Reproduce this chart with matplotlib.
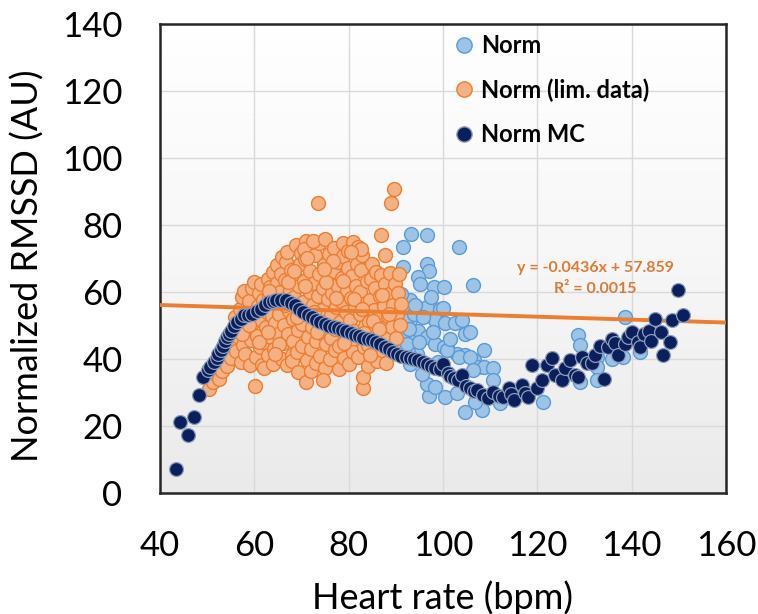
import numpy as np
import matplotlib
matplotlib.use("Agg")
import matplotlib.pyplot as plt
from matplotlib.colors import LinearSegmentedColormap
from matplotlib.lines import Line2D

plt.rcParams['font.family'] = ['Lato', 'DejaVu Sans']

# ---------------- data ----------------
x_ticks = [40, 60, 80, 100, 120, 140, 160]
y_ticks = [0, 20, 40, 60, 80, 100, 120, 140]

# Norm (visible points)
norm_hr = [91.6, 93.2, 96.6, 103.4, 91.6, 96.6, 97.1, 94.8, 98.0, 100.3,
           106.4, 95.2, 93.0, 96.6, 99.3, 100.1, 103.8, 104.7, 105.7, 93.0,
           94.8, 96.6, 98.4, 100.2, 101.1, 102.9, 104.7, 106.5, 108.6, 107.4,
           108.6, 110.7, 110.7, 104.7, 108.2, 106.8, 100.4, 97.1, 96.6, 98.4,
           102.9, 93.0, 94.4, 93.0, 91.6, 92.1, 91.6, 91.1, 93.9, 98.4,
           100.4, 102.6, 104.0, 100.8, 103.3, 105.7, 106.4, 112.1, 121.3, 128.7,
           129.1, 129.1, 132.7, 132.7, 132.7, 135.9, 138.6, 138.1, 141.8, 97.5,
           95.5, 99.0, 101.5, 89.5, 90.0, 90.5, 92.5, 92.8, 94.0, 95.8,
           97.8, 92.3, 95.0]
norm_rmssd = [73.4, 77.4, 76.9, 73.4, 67.4, 68.4, 66.4, 64.4, 61.4, 61.4,
              62.1, 62.4, 57.5, 55.5, 55.0, 55.1, 51.5, 47.5, 48.2, 51.5,
              48.5, 46.5, 44.5, 43.6, 42.6, 41.6, 41.1, 39.6, 42.7, 37.6,
              37.7, 37.2, 33.7, 24.3, 24.8, 27.3, 28.7, 29.1, 32.6, 31.6,
              29.8, 38.6, 41.6, 45.5, 47.5, 51.5, 55.5, 59.5, 53.5, 51.5,
              50.7, 50.7, 51.6, 42.7, 40.7, 40.7, 36.7, 26.8, 27.3, 47.2,
              44.2, 33.2, 40.6, 37.6, 33.6, 40.1, 52.5, 40.6, 42.0, 58.5,
              35.5, 39.0, 46.0, 62.0, 52.0, 45.0, 42.0, 49.0, 56.0, 52.5,
              48.0, 44.5, 45.0]

# Norm (lim. data)
lim_hr = [
    50.4, 51.3, 51.9, 52.6, 53.2, 53.5,
    54.1, 54.4, 54.8, 55.0, 55.3, 55.6, 55.9,
    56.2, 56.4, 56.6, 56.9, 57.1, 57.3, 57.6, 57.8,
    58.1, 58.3, 58.5, 58.8, 59.0, 59.2, 59.5, 59.7, 59.9,
    60.2, 60.3, 60.5, 60.7, 60.9, 61.1, 61.3, 61.5, 61.7, 61.9,
    62.0, 62.2, 62.4, 62.6, 62.8, 63.0, 63.2, 63.4, 63.6, 63.8, 63.9,
    64.0, 64.2, 64.3, 64.5, 64.7, 64.9, 65.0, 65.2, 65.4, 65.6, 65.8, 65.9,
    66.0, 66.2, 66.3, 66.5, 66.7, 66.9, 67.0, 67.2, 67.4, 67.6, 67.8, 67.9,
    68.0, 68.1, 68.3, 68.5, 68.7, 68.8, 69.0, 69.2, 69.4, 69.5, 69.7, 69.9, 69.3,
    70.0, 70.2, 70.3, 70.5, 70.7, 70.9, 71.0, 71.2, 71.3, 71.5, 71.7, 71.9, 70.6,
    72.0, 72.1, 72.3, 72.5, 72.6, 72.8, 73.0, 73.1, 73.3, 73.5, 73.7, 73.8, 73.4, 72.4,
    74.0, 74.2, 74.3, 74.5, 74.7, 74.9, 75.0, 75.2, 75.4, 75.6, 75.8, 75.9, 74.6,
    76.0, 76.2, 76.3, 76.5, 76.7, 76.9, 77.0, 77.2, 77.4, 77.6, 77.8, 77.9,
    78.0, 78.2, 78.3, 78.5, 78.7, 78.9, 79.0, 79.2, 79.4, 79.6, 79.8, 79.9,
    80.0, 80.2, 80.3, 80.5, 80.7, 80.9, 81.0, 81.2, 81.4, 81.6, 81.8, 81.9,
    82.0, 82.2, 82.3, 82.5, 82.7, 82.9, 83.0, 83.1, 83.3, 83.5, 83.7, 83.9, 82.6,
    84.0, 84.2, 84.4, 84.5, 84.7, 84.9, 85.0, 85.2, 85.4, 85.6, 85.8,
    86.0, 86.2, 86.4, 86.6, 86.8, 87.0, 87.2, 87.4, 87.6, 87.8, 86.9,
    88.0, 88.2, 88.4, 88.6, 88.8, 89.0, 89.2, 89.4, 88.9, 89.6,
    89.8, 90.0, 90.2, 90.4, 90.6, 90.8, 91.0,
    57.4, 58.9, 61.0, 63.1, 65.3, 67.1, 69.1, 71.1, 73.2, 75.1,
    77.3, 79.1, 81.1, 83.2, 85.1, 87.1, 64.4, 68.4, 72.7, 76.6,
    80.6, 84.6, 88.5, 62.9, 66.6, 70.8, 74.8, 78.8, 82.8, 86.5,
]
lim_rmssd = [
    31.0, 33.2, 35.5, 34.1, 36.4, 40.0,
    38.0, 42.3, 45.1, 40.2, 44.0, 48.5, 52.6,
    42.5, 46.8, 50.3, 55.0, 39.1, 58.4, 44.2, 60.3,
    41.4, 49.2, 53.6, 57.2, 38.3, 45.6, 61.2, 51.0, 63.0,
    32.0, 40.6, 47.0, 55.8, 59.6, 43.5, 51.9, 62.4, 38.1, 57.5,
    37.4, 44.8, 49.6, 54.1, 64.0, 41.2, 58.9, 61.6, 46.7, 52.8, 66.1,
    38.6, 43.1, 50.7, 56.3, 62.8, 68.2, 47.4, 53.5, 59.9, 65.4, 40.1, 70.3,
    44.9, 50.2, 57.8, 63.6, 69.1, 38.2, 72.0, 47.6, 54.4, 60.5, 66.7, 41.3,
    39.3, 45.5, 51.8, 58.6, 64.9, 74.0, 42.2, 48.7, 55.3, 61.9, 68.5, 71.6, 36.0,
    43.8, 50.4, 57.1, 63.3, 69.8, 75.2, 33.0, 39.7, 46.6, 53.2, 60.0, 66.4, 72.8,
    36.4, 42.9, 49.5, 56.0, 62.7, 70.9, 38.8, 45.3, 52.1, 58.8, 65.5, 74.5, 86.6, 75.3,
    41.0, 47.8, 54.7, 61.3, 68.1, 75.8, 37.2, 44.5, 51.2, 57.9, 64.6, 71.4, 33.6,
    39.9, 46.3, 53.0, 59.8, 66.2, 73.1, 42.7, 49.1, 55.6, 62.2, 68.9, 37.0,
    44.0, 50.9, 57.4, 64.1, 70.7, 74.6, 40.3, 47.2, 53.9, 60.6, 67.3, 72.2,
    38.4, 45.0, 51.6, 58.3, 64.8, 74.9, 42.1, 48.4, 55.1, 61.7, 68.3, 73.5,
    40.5, 46.9, 53.4, 60.1, 66.6, 71.0, 31.2, 34.7, 43.6, 50.0, 56.7, 63.3, 72.8,
    37.8, 44.3, 51.0, 57.5, 63.8, 68.4, 41.6, 48.2, 54.6, 61.1, 66.0,
    39.4, 45.8, 52.4, 58.9, 65.0, 42.8, 49.3, 55.8, 62.3, 70.9, 76.9,
    38.9, 46.1, 52.9, 59.4, 65.7, 43.0, 49.7, 56.2, 86.5, 90.8,
    62.5, 46.4, 53.3, 59.7, 65.3, 50.2, 56.4,
    47.5, 50.1, 45.2, 60.2, 44.6, 63.0, 52.6, 70.1, 48.0, 62.9,
    58.3, 44.7, 57.9, 47.7, 51.4, 59.2, 41.5, 66.2, 54.0, 69.4,
    72.0, 41.1, 53.4, 48.2, 56.2, 61.8, 66.9, 63.4, 55.0, 48.9,
]

# Norm MC
mc_hr = [43.3, 44.2, 45.9, 47.2, 48.3, 49.2, 50.1, 50.7, 51.5, 52.0,
         52.4, 52.9, 53.3, 53.8, 54.2, 54.7, 55.1, 55.7, 56.4, 57.1,
         57.8, 58.6, 59.6, 60.5, 61.4, 62.3, 63.2, 63.9, 64.6, 65.7,
         66.8, 67.7, 68.6, 69.5, 70.4, 71.3, 72.2, 73.1, 74.0, 74.9,
         75.8, 76.8, 77.7, 78.6, 79.5, 80.4, 81.3, 82.2, 83.1, 84.0,
         84.9, 85.8, 86.7, 87.6, 88.5, 89.4, 90.3, 91.2, 92.1, 93.0,
         93.9, 94.8, 95.7, 96.6, 97.5, 98.4, 99.3, 99.9, 101.0, 101.5,
         102.4, 103.1, 104.0, 104.9, 105.8, 106.6, 107.3, 108.5, 109.6, 110.6,
         111.8, 112.8, 113.9, 114.4, 115.0, 116.7, 117.4, 118.1, 118.8, 119.9,
         120.9, 122.0, 123.1, 123.8, 125.2, 125.9, 127.0, 128.0, 128.6, 129.4,
         130.5, 131.6, 132.3, 133.2, 134.1, 135.0, 135.9, 136.5, 137.2, 138.6,
         139.3, 140.0, 141.3, 141.8, 142.7, 143.6, 144.2, 145.0, 146.3, 146.7,
         148.1, 148.5, 149.9, 150.8]
mc_rmssd = [7.1, 21.2, 17.2, 22.7, 29.3, 34.6, 36.8, 37.5, 39.1, 40.3,
            41.6, 42.8, 44.0, 45.3, 46.5, 47.6, 48.5, 49.8, 51.0, 52.0,
            53.0, 53.2, 53.5, 54.2, 55.0, 56.0, 57.0, 57.4, 57.7, 57.6,
            57.5, 56.8, 56.0, 55.0, 54.0, 53.2, 52.5, 51.7, 51.0, 50.5,
            50.0, 49.5, 49.2, 48.8, 48.5, 47.9, 47.2, 46.9, 46.4, 46.0,
            45.8, 45.0, 44.5, 43.6, 42.9, 42.2, 41.6, 41.0, 40.6, 40.3,
            40.0, 39.6, 39.1, 38.5, 37.8, 37.3, 36.9, 38.4, 35.9, 35.0,
            34.4, 33.6, 35.2, 32.0, 31.2, 30.4, 30.8, 29.3, 28.5, 30.2,
            29.0, 28.7, 31.2, 29.5, 27.8, 32.2, 30.0, 28.7, 38.2, 31.2,
            33.7, 38.2, 40.2, 35.2, 33.7, 37.2, 39.7, 35.2, 34.6, 40.7,
            38.7, 38.8, 41.1, 44.0, 34.1, 43.6, 46.0, 44.8, 41.1, 44.5,
            46.5, 48.0, 45.0, 43.6, 47.5, 48.5, 45.5, 52.0, 48.0, 41.1,
            45.0, 51.5, 60.5, 53.0]

trend_slope = -0.0436
trend_intercept = 57.859
eq_text = "y = -0.0436x + 57.859"
r2_text = "R\u00b2 = 0.0015"

# ---------------- figure ----------------
W, H = 758, 614
fig = plt.figure(figsize=(W / 100, H / 100), dpi=100)
ax = fig.add_axes([160 / W, 1 - 493 / H, 566 / W, 469 / H])

# gradient background
grad = np.linspace(0, 1, 256).reshape(-1, 1)
bg_cmap = LinearSegmentedColormap.from_list('bg', ['#EAEAEA', '#F7F7F7', '#FFFFFF'])
ax.imshow(grad, extent=[40, 160, 0, 140], origin='lower', aspect='auto',
          cmap=bg_cmap, zorder=0, interpolation='bilinear')

ax.set_xlim(40, 160)
ax.set_ylim(0, 140)
ax.set_xticks(x_ticks)
ax.set_yticks(y_ticks)
ax.set_axisbelow(True)
ax.grid(True, color='#D9D9D9', linewidth=1.0)

ms = 100
ax.scatter(norm_hr, norm_rmssd, s=ms, facecolor='#9DC3E6', edgecolor='#5B9BD5',
           linewidth=1.0, zorder=2)
ax.scatter(lim_hr, lim_rmssd, s=ms, facecolor='#F4B183', edgecolor='#ED7D31',
           linewidth=1.0, zorder=3)

xs = np.array([40, 160])
ax.plot(xs, trend_slope * xs + trend_intercept, color='#ED7D31', linewidth=2.8,
        solid_capstyle='butt', zorder=4)

ax.scatter(mc_hr, mc_rmssd, s=ms, facecolor='#0A1F5C', edgecolor='#8C9DBA',
           linewidth=0.9, zorder=5)

ax.text(132.3, 67.2, eq_text, ha='center', va='center', fontsize=11.5,
        fontweight='bold', color='#DB7B36', zorder=6)
ax.text(132.3, 60.9, r2_text, ha='center', va='center', fontsize=11.5,
        fontweight='bold', color='#DB7B36', zorder=6)

for sp in ax.spines.values():
    sp.set_color('#262626')
    sp.set_linewidth(1.8)

ax.tick_params(axis='both', length=0, labelsize=25, colors='black')
ax.tick_params(axis='y', pad=27)
ax.tick_params(axis='x', pad=27)

# legend
handles = [
    Line2D([], [], marker='o', linestyle='none', markersize=11,
           markerfacecolor='#9DC3E6', markeredgecolor='#5B9BD5'),
    Line2D([], [], marker='o', linestyle='none', markersize=11,
           markerfacecolor='#F4B183', markeredgecolor='#ED7D31'),
    Line2D([], [], marker='o', linestyle='none', markersize=11,
           markerfacecolor='#0A1F5C', markeredgecolor='#8C9DBA'),
]
labels = ['Norm', 'Norm (lim. data)', 'Norm MC']
leg = ax.legend(handles, labels, loc='upper left', bbox_to_anchor=(0.521, 0.979),
                frameon=False, borderpad=0, borderaxespad=0,
                handlelength=0.8, handletextpad=0.3, labelspacing=0.9,
                prop={'family': 'Lato', 'weight': 'bold', 'size': 17})
leg.set_zorder(7)

fig.text(443 / W, 1 - 609 / H, 'Heart rate (bpm)', ha='center', va='baseline',
         fontsize=26)
fig.text(28 / W, 1 - 266 / H, 'Normalized RMSSD (AU)', ha='center', va='center',
         rotation=90, fontsize=26)

fig.savefig('out.png', dpi=100)
